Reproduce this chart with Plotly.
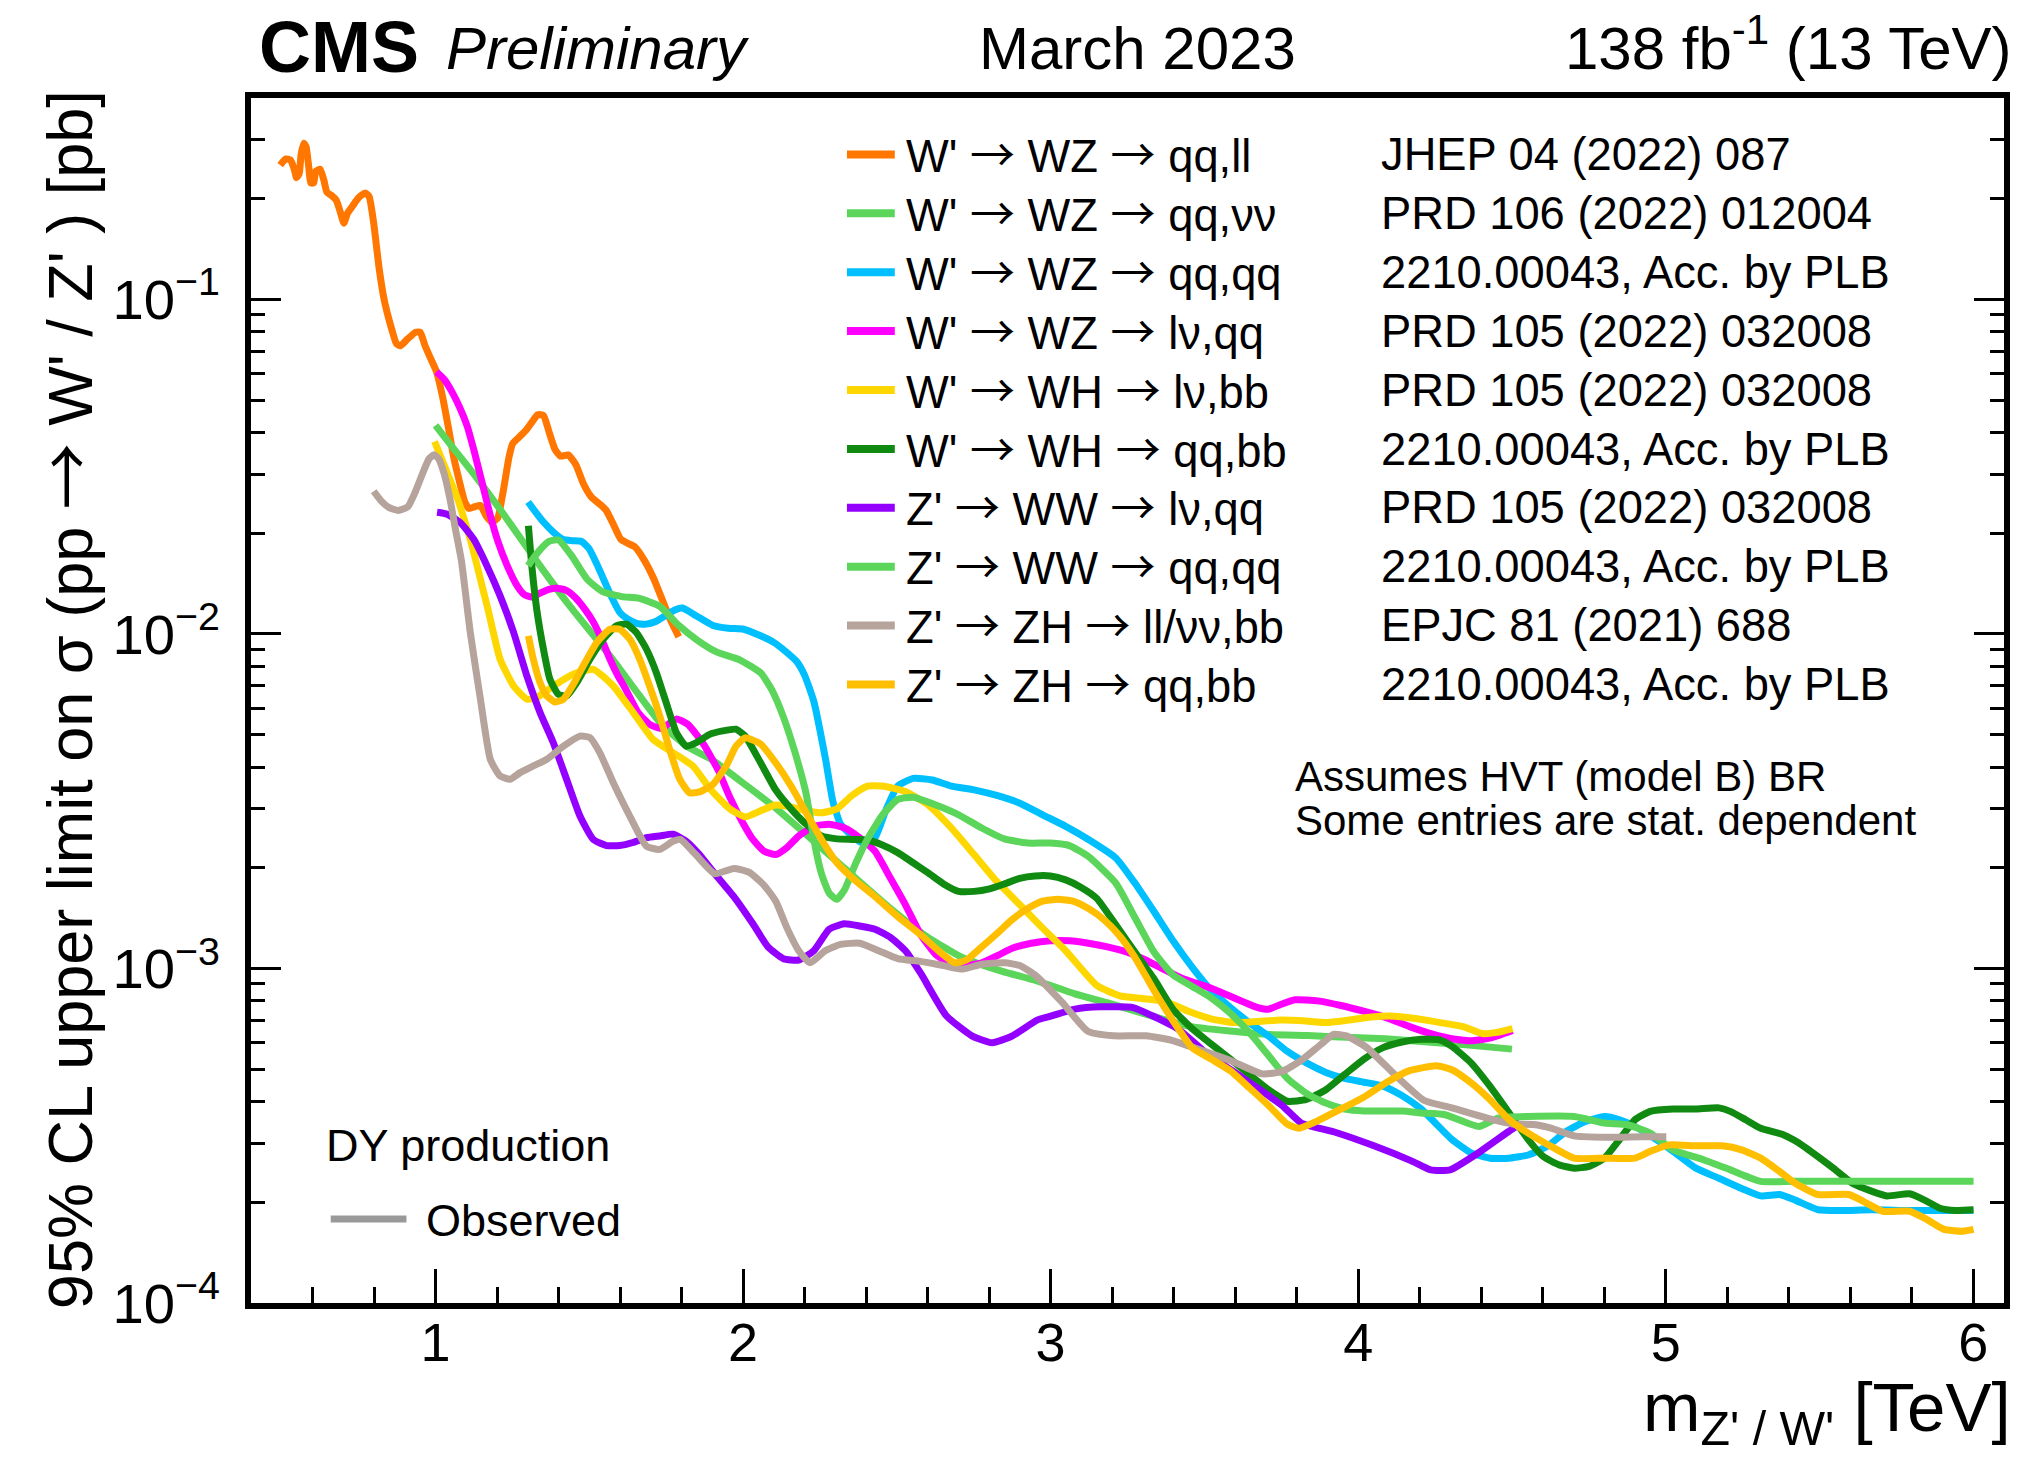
import math
import plotly.graph_objects as go

# ---------------- data ----------------
wz_qqll_m = [0.495,0.513,0.528,0.541,0.548,0.557,0.563,0.572,0.579,0.588,
             0.594,0.604,0.610,0.625,0.637,0.647,0.662,0.677,0.690,0.702,
             0.714,0.731,0.749,0.771,0.784,0.799,0.817,0.833,0.855,0.873,
             0.886,0.910,0.935,0.950,0.966,0.985,1.003,1.022,1.041,1.059,
             1.078,1.096,1.109,1.127,1.146,1.165,1.183,1.202,1.220,1.239,
             1.251,1.270,1.295,1.313,1.332,1.351,1.369,1.388,1.406,1.431,
             1.456,1.481,1.506,1.537,1.555,1.580,1.602,1.623,1.648,1.679,
             1.710,1.741,1.766,1.791]
wz_qqll_lim = [0.252,0.263,0.261,0.2445,0.231,0.238,0.272,0.293,0.2865,0.248,
               0.223,0.223,0.241,0.245,0.227,0.209,0.2045,0.198,0.183,0.169,
               0.181,0.1905,0.201,0.208,0.203,0.169,0.123,0.0998,0.083,0.0737,
               0.0727,0.0763,0.0798,0.0798,0.0727,0.0663,0.0608,0.0516,0.0418,0.0338,
               0.0285,0.0247,0.0237,0.0240,0.0242,0.0225,0.0216,0.0222,0.0267,0.0338,
               0.0371,0.0386,0.0407,0.0429,0.0452,0.0450,0.0402,0.0357,0.0340,0.0343,
               0.0321,0.0281,0.0257,0.0243,0.0234,0.0211,0.0192,0.0187,0.0182,0.0166,
               0.0146,0.0124,0.0109,0.0098]

wz_qqnn_m = [1.0,1.06,1.134,1.208,1.282,1.357,1.431,1.506,1.58,1.66,
             1.74,1.82,1.90,1.98,2.10,2.215,2.347,2.48,2.595,2.711,
             2.843,2.953,3.079,3.205,3.331,3.457,3.584,3.71,3.836,3.962,
             4.089,4.215,4.341,4.5]
wz_qqnn_lim = [0.042,0.0357,0.0293,0.0237,0.019,0.0152,0.0123,0.0101,0.0083,0.0066,
               0.0053,0.0046,0.0042,0.0037,0.00305,0.00247,0.00193,0.00151,0.00125,0.00108,
               0.00098,0.00092,0.00084,0.00078,0.00072,0.00067,0.00065,0.000635,0.00063,0.000623,
               0.000616,0.000604,0.000592,0.000574]

wz_qqqq_m = [1.301,1.326,1.351,1.382,1.413,1.444,1.475,1.499,1.524,1.549,
             1.574,1.599,1.623,1.654,1.685,1.716,1.747,1.778,1.803,1.847,
             1.902,1.952,2.002,2.051,2.101,2.138,2.175,2.200,2.230,2.268,
             2.292,2.317,2.354,2.391,2.429,2.466,2.503,2.553,2.615,2.677,
             2.751,2.825,2.900,2.974,3.049,3.123,3.212,3.274,3.336,3.398,
             3.460,3.522,3.584,3.646,3.708,3.770,3.832,3.895,3.956,4.019,
             4.081,4.142,4.205,4.305,4.367,4.429,4.491,4.553,4.615,4.677,
             4.739,4.801,4.850,4.900,4.962,5.024,5.098,5.173,5.247,5.309,
             5.371,5.421,5.495,5.570,5.669,5.793,5.917,6.000]
wz_qqqq_lim = [0.0248,0.0231,0.0216,0.0202,0.0192,0.0190,0.0189,0.0180,0.0162,0.0144,
               0.0128,0.0116,0.0111,0.01075,0.0107,0.0109,0.01134,0.0118,0.01195,0.01134,
               0.0106,0.0104,0.01033,0.00993,0.00942,0.00887,0.00826,0.00753,0.00628,0.00423,
               0.00316,0.0027,0.00249,0.00237,0.00246,0.0030,0.00351,0.0037,0.00366,0.00351,
               0.00342,0.00329,0.00312,0.00288,0.00266,0.00243,0.00214,0.0018,0.00148,0.00121,
               0.00101,0.000861,0.000765,0.000689,0.000628,0.000565,0.000522,0.000489,0.000469,0.000457,
               0.000445,0.000417,0.00038,0.000308,0.000281,0.000271,0.000271,0.000277,0.000294,0.000326,
               0.000349,0.000361,0.000353,0.000337,0.000311,0.000284,0.000253,0.000236,0.00022,0.000209,
               0.000211,0.000203,0.00019,0.000189,0.00019,0.000189,0.000189,0.000189]

wz_lnqq_m = [1.003,1.028,1.053,1.078,1.103,1.127,1.152,1.177,1.202,1.233,
             1.264,1.289,1.313,1.344,1.369,1.394,1.425,1.456,1.487,1.512,
             1.537,1.568,1.592,1.617,1.660,1.697,1.734,1.784,1.821,1.871,
             1.920,1.957,1.995,2.032,2.069,2.106,2.143,2.181,2.230,2.280,
             2.330,2.379,2.429,2.478,2.528,2.578,2.627,2.677,2.726,2.776,
             2.825,2.875,2.937,2.999,3.061,3.123,3.185,3.247,3.309,3.371,
             3.433,3.522,3.671,3.708,3.746,3.795,3.870,3.944,4.018,4.093,
             4.167,4.242,4.316,4.366,4.428,4.502]
wz_lnqq_lim = [0.0608,0.0577,0.0530,0.0477,0.0418,0.0348,0.0282,0.0228,0.0190,0.0160,
               0.0140,0.0131,0.0129,0.0133,0.0136,0.0137,0.0135,0.0128,0.0118,0.0109,
               0.0098,0.00837,0.00753,0.00687,0.0058,0.00536,0.00522,0.00557,0.00536,0.00469,
               0.0039,0.00325,0.00277,0.00243,0.00224,0.00219,0.0023,0.00249,0.00266,0.0027,
               0.00263,0.00246,0.00224,0.00187,0.00155,0.00126,0.0011,0.00103,0.00102,0.00104,
               0.00109,0.00115,0.00119,0.00121,0.00121,0.00119,0.00116,0.00112,0.00106,0.00099,
               0.00093,0.000873,0.000765,0.000755,0.000779,0.000806,0.0008,0.000775,0.000745,0.000712,
               0.00067,0.000636,0.000614,0.000608,0.000619,0.000653]

wh_lnbb_m = [0.997,1.022,1.047,1.072,1.096,1.121,1.146,1.171,1.210,1.254,
             1.297,1.329,1.383,1.448,1.513,1.578,1.643,1.707,1.772,1.837,
             1.895,1.957,2.007,2.057,2.106,2.156,2.205,2.255,2.305,2.354,
             2.404,2.453,2.528,2.602,2.677,2.751,2.825,2.900,2.974,3.049,
             3.150,3.225,3.299,3.374,3.448,3.522,3.597,3.671,3.746,3.820,
             3.895,3.969,4.043,4.118,4.192,4.267,4.341,4.403,4.452,4.502]
wh_lnbb_lim = [0.0376,0.033,0.0289,0.0253,0.0216,0.018,0.01456,0.0118,0.0084,0.00699,
               0.00638,0.00645,0.00699,0.00758,0.00784,0.00699,0.00582,0.00484,0.00442,0.00403,
               0.00342,0.0030,0.00284,0.00296,0.00308,0.00304,0.00296,0.00292,0.0030,0.00329,
               0.00351,0.00351,0.00338,0.00308,0.00263,0.00219,0.00182,0.00155,0.00132,0.00113,
               0.00089,0.000828,0.000813,0.000796,0.000745,0.000707,0.000689,0.000694,0.000701,0.000698,
               0.000689,0.000701,0.000716,0.00072,0.000707,0.000689,0.00067,0.000639,0.000644,0.000661]

wh_qqbb_m = [1.302,1.313,1.329,1.351,1.372,1.399,1.426,1.459,1.502,1.545,
             1.588,1.621,1.653,1.686,1.718,1.750,1.783,1.815,1.848,1.891,
             1.934,1.977,2.007,2.057,2.106,2.156,2.205,2.255,2.305,2.354,
             2.404,2.453,2.503,2.553,2.602,2.652,2.701,2.751,2.801,2.850,
             2.900,2.949,2.999,3.049,3.098,3.150,3.212,3.274,3.336,3.398,
             3.460,3.522,3.584,3.646,3.708,3.770,3.832,3.895,3.956,4.019,
             4.081,4.143,4.205,4.267,4.305,4.367,4.429,4.491,4.553,4.602,
             4.652,4.702,4.751,4.801,4.850,4.900,4.950,5.024,5.098,5.173,
             5.210,5.260,5.309,5.384,5.433,5.495,5.545,5.607,5.669,5.719,
             5.793,5.842,5.892,5.942,6.001]
wh_qqbb_lim = [0.02105,0.016,0.01186,0.009,0.00732,0.0066,0.00652,0.00715,0.0084,0.00964,
               0.01057,0.01069,0.0101,0.009,0.00766,0.00623,0.00507,0.00462,0.00473,0.00501,
               0.00513,0.00519,0.00495,0.00412,0.00342,0.0030,0.0027,0.00249,0.00244,0.00243,
               0.00242,0.00234,0.00222,0.00207,0.00193,0.00179,0.0017,0.0017,0.00173,0.00179,
               0.00186,0.00189,0.00189,0.00184,0.00175,0.00162,0.00135,0.00112,0.000932,0.000755,
               0.000661,0.000595,0.000536,0.000482,0.000434,0.000401,0.000406,0.000434,0.000482,0.000536,
               0.00058,0.000603,0.000614,0.000611,0.000585,0.000522,0.000444,0.00037,0.000308,0.000274,
               0.000259,0.000253,0.000256,0.000271,0.000308,0.000353,0.000374,0.00038,0.00038,0.000383,
               0.000374,0.000353,0.000333,0.000318,0.000301,0.000274,0.000253,0.000228,0.000216,0.000209,
               0.000212,0.000203,0.000192,0.000189,0.00019]

ww_lnqq_m = [1.005,1.038,1.081,1.124,1.167,1.210,1.254,1.297,1.340,1.383,
             1.426,1.470,1.513,1.556,1.599,1.642,1.686,1.729,1.772,1.815,
             1.858,1.908,1.970,2.032,2.081,2.131,2.181,2.230,2.280,2.329,
             2.379,2.429,2.478,2.528,2.578,2.661,2.744,2.810,2.876,2.956,
             2.995,3.079,3.163,3.268,3.331,3.415,3.500,3.626,3.752,3.815,
             3.920,4.047,4.173,4.236,4.299,4.383,4.488,4.510]
ww_lnqq_lim = [0.0231,0.0228,0.0215,0.0192,0.016,0.013,0.0101,0.00749,0.00582,0.00473,
               0.00368,0.00285,0.00243,0.00233,0.00233,0.00238,0.00246,0.00249,0.00252,0.0024,
               0.00219,0.00192,0.00164,0.00136,0.00116,0.00107,0.00106,0.00113,0.00131,0.00136,
               0.00134,0.00131,0.00124,0.00113,0.000966,0.000722,0.000629,0.0006,0.000629,0.000701,
               0.000718,0.000756,0.000768,0.000764,0.000722,0.000659,0.000565,0.00047,0.00039,0.000345,
               0.000325,0.000296,0.000266,0.00025,0.00025,0.000278,0.000325,0.000335]

ww_qqqq_m = [1.301,1.332,1.369,1.400,1.444,1.493,1.543,1.605,1.660,1.729,
             1.791,1.853,1.915,1.989,2.057,2.094,2.131,2.168,2.205,2.230,
             2.255,2.280,2.305,2.330,2.367,2.404,2.454,2.503,2.553,2.627,
             2.701,2.776,2.850,2.925,2.999,3.061,3.123,3.212,3.274,3.336,
             3.398,3.460,3.522,3.584,3.646,3.708,3.770,3.832,3.895,3.956,
             4.019,4.143,4.205,4.280,4.392,4.454,4.553,4.702,4.801,4.875,
             4.950,5.024,5.123,5.210,5.309,5.421,6.001]
ww_qqqq_lim = [0.016,0.0175,0.0189,0.0191,0.01705,0.01457,0.01338,0.01293,0.0128,0.0121,
               0.0106,0.00955,0.00882,0.00837,0.00765,0.00679,0.00565,0.00445,0.00333,0.00243,
               0.00192,0.00168,0.00161,0.00172,0.00207,0.00243,0.00288,0.0032,0.00325,0.00308,
               0.00288,0.00263,0.00244,0.00237,0.00237,0.00233,0.00216,0.0018,0.00142,0.00112,
               0.000957,0.000884,0.000817,0.000735,0.000644,0.00055,0.000469,0.000423,0.000396,0.00038,
               0.000375,0.000375,0.00037,0.000366,0.000337,0.000357,0.000361,0.000361,0.000345,0.000341,
               0.000322,0.000287,0.000268,0.00025,0.000231,0.000231,0.000231]

zh_llbb_m = [0.799,0.823,0.848,0.879,0.910,0.935,0.960,0.979,0.995,1.010,
             1.028,1.047,1.065,1.084,1.113,1.146,1.178,1.210,1.243,1.275,
             1.318,1.362,1.416,1.470,1.502,1.534,1.578,1.632,1.686,1.729,
             1.772,1.796,1.846,1.908,1.970,2.019,2.069,2.106,2.143,2.181,
             2.218,2.267,2.317,2.379,2.441,2.503,2.577,2.652,2.714,2.776,
             2.850,2.900,2.953,3.037,3.121,3.205,3.310,3.394,3.479,3.584,
             3.689,3.752,3.815,3.878,3.920,3.962,4.026,4.131,4.215,4.305,
             4.429,4.503,4.578,4.627,4.702,4.801,4.925,5.002]
zh_llbb_lim = [0.0267,0.025,0.0239,0.0234,0.024,0.0267,0.0305,0.0334,0.0343,0.0334,
               0.0301,0.0253,0.0205,0.0166,0.0101,0.00638,0.00422,0.00376,0.00368,0.00385,
               0.00403,0.00422,0.00462,0.00495,0.0049,0.00442,0.00359,0.00285,0.00232,0.00227,
               0.0024,0.00243,0.00219,0.00192,0.00199,0.00194,0.00177,0.00159,0.00132,0.00113,
               0.00104,0.00113,0.00118,0.00119,0.00113,0.00107,0.00105,0.00102,0.000996,0.00103,
               0.00104,0.00102,0.00095,0.000793,0.000649,0.000629,0.000629,0.00061,0.000574,0.000531,
               0.000484,0.000492,0.000531,0.000592,0.000635,0.000629,0.000582,0.00047,0.000403,0.000383,
               0.000355,0.000343,0.000341,0.000333,0.000316,0.000313,0.000314,0.000314]

zh_qqbb_m = [1.302,1.318,1.340,1.362,1.389,1.416,1.448,1.480,1.524,1.567,
             1.599,1.632,1.664,1.696,1.729,1.761,1.794,1.826,1.858,1.902,
             1.945,1.977,2.007,2.057,2.106,2.156,2.205,2.255,2.305,2.354,
             2.429,2.503,2.578,2.640,2.689,2.726,2.776,2.825,2.875,2.925,
             2.974,3.024,3.073,3.123,3.173,3.222,3.274,3.336,3.398,3.460,
             3.522,3.584,3.646,3.708,3.770,3.808,3.870,3.944,4.018,4.093,
             4.167,4.255,4.305,4.367,4.429,4.491,4.553,4.627,4.702,4.801,
             4.900,4.950,5.012,5.098,5.185,5.247,5.309,5.371,5.421,5.495,
             5.595,5.644,5.706,5.793,5.843,5.905,5.967,6.001]
zh_qqbb_lim = [0.00987,0.0084,0.00715,0.00653,0.00626,0.00638,0.00707,0.00802,0.00942,0.01033,
               0.01033,0.00964,0.0084,0.00699,0.00569,0.00452,0.00368,0.00335,0.00337,0.00355,
               0.00403,0.00462,0.00489,0.00469,0.00412,0.00351,0.00292,0.00243,0.00207,0.00187,
               0.00164,0.00143,0.00126,0.00112,0.00104,0.00106,0.00116,0.00127,0.0014,0.00151,
               0.00159,0.00161,0.00159,0.00151,0.0014,0.00126,0.00108,0.000861,0.000698,0.00058,
               0.000536,0.000495,0.00044,0.00039,0.000342,0.000333,0.000351,0.00038,0.000412,0.000457,
               0.000495,0.000512,0.000498,0.000455,0.000405,0.000353,0.000322,0.000294,0.000271,0.000271,
               0.000271,0.000284,0.000297,0.000295,0.000295,0.000287,0.000271,0.000247,0.000228,0.000211,
               0.000211,0.000201,0.000188,0.000188,0.000179,0.000166,0.000164,0.000166]

channel_labels = ["W' → WZ → qq,ll", "W' → WZ → qq,νν", "W' → WZ → qq,qq",
                  "W' → WZ → lν,qq", "W' → WH → lν,bb", "W' → WH → qq,bb",
                  "Z' → WW → lν,qq", "Z' → WW → qq,qq", "Z' → ZH → ll/νν,bb",
                  "Z' → ZH → qq,bb"]
references = ["JHEP 04 (2022) 087", "PRD 106 (2022) 012004", "2210.00043, Acc. by PLB",
              "PRD 105 (2022) 032008", "PRD 105 (2022) 032008", "2210.00043, Acc. by PLB",
              "PRD 105 (2022) 032008", "2210.00043, Acc. by PLB", "EPJC 81 (2021) 688",
              "2210.00043, Acc. by PLB"]
colors = ["#ff7700", "#5bd65b", "#00bfff", "#ff00ff", "#ffd700",
          "#118a11", "#9400ff", "#5bd65b", "#b5a39c", "#ffbf00"]

series = [(wz_qqll_m, wz_qqll_lim), (wz_qqnn_m, wz_qqnn_lim), (wz_qqqq_m, wz_qqqq_lim),
          (wz_lnqq_m, wz_lnqq_lim), (wh_lnbb_m, wh_lnbb_lim), (wh_qqbb_m, wh_qqbb_lim),
          (ww_lnqq_m, ww_lnqq_lim), (ww_qqqq_m, ww_qqqq_lim), (zh_llbb_m, zh_llbb_lim),
          (zh_qqbb_m, zh_qqbb_lim)]
for i, (mx, lim) in enumerate(series):
    assert len(mx) == len(lim), (i, len(mx), len(lim))

# ---------------- figure ----------------
W, H = 2018, 1458
L, R, T, B = 251, 8, 98, 155
PW, PH = W - L - R, H - T - B
FONT = "Liberation Sans, Arial, Helvetica, sans-serif"

def px(xp):
    return (xp - L) / PW

def py(yp):
    return (H - B - yp) / PH

def arrows(s, size):
    return s.replace("→", '<span style="font-family:Noto Sans CJK JP;font-size:%dpx">→</span>' % size)

fig = go.Figure()
for (mx, lim), col, lab in zip(series, colors, channel_labels):
    fig.add_trace(go.Scatter(x=mx, y=lim, mode="lines", name=lab,
                             line=dict(color=col, width=7, shape="spline", smoothing=0.5),
                             showlegend=False, hoverinfo="skip"))

annotations = []
shapes = []
# header
annotations.append(dict(text="<b>CMS</b>", x=px(257), y=py(47), xanchor="left", yanchor="middle",
                        font=dict(size=72, family=FONT, color="black")))
annotations.append(dict(text="<i>Preliminary</i>", x=px(445), y=py(49), xanchor="left", yanchor="middle",
                        font=dict(size=60, family=FONT, color="black")))
annotations.append(dict(text="March 2023", x=px(1141), y=py(49), xanchor="center", yanchor="middle",
                        font=dict(size=60, family=FONT, color="black")))
annotations.append(dict(text="138 fb<sup>-1</sup> (13 TeV)", x=px(2020), y=py(44), xanchor="right", yanchor="middle",
                        font=dict(size=60, family=FONT, color="black")))
# axis titles
annotations.append(dict(text=arrows("95% CL upper limit on σ (pp → W' / Z' ) [pb]", 66), x=px(62), y=py(88),
                        xanchor="center", yanchor="top", textangle=-90,
                        font=dict(size=63, family=FONT, color="black")))
annotations.append(dict(text="m<sub>Z' / W'</sub> [TeV]", x=px(2019), y=py(1457),
                        xanchor="right", yanchor="bottom",
                        font=dict(size=69, family=FONT, color="black")))
# legend: sample lines + two text columns (one multi-line annotation per column)
row0, step = 154.4, 58.9
LEG_FS = step / 1.3
for i, col in enumerate(colors):
    yy = row0 + step * i
    shapes.append(dict(type="line", xref="paper", yref="paper", x0=px(849), x1=px(897),
                       y0=py(yy), y1=py(yy), line=dict(color=col, width=8)))
mid_rows = row0 + step * (len(colors) - 1) / 2
annotations.append(dict(text="<br>".join(arrows(lab, 45) for lab in channel_labels),
                        x=px(906), y=py(mid_rows - 2), xanchor="left", yanchor="middle", align="left",
                        font=dict(size=LEG_FS, family=FONT, color="black")))
annotations.append(dict(text="<br>".join(references),
                        x=px(1383), y=py(mid_rows), xanchor="left", yanchor="middle", align="left",
                        font=dict(size=LEG_FS, family=FONT, color="black")))
annotations.append(dict(text="Assumes HVT (model B) BR", x=px(1297), y=py(776), xanchor="left",
                        yanchor="middle", font=dict(size=42, family=FONT, color="black")))
annotations.append(dict(text="Some entries are stat. dependent", x=px(1297), y=py(820), xanchor="left",
                        yanchor="middle", font=dict(size=42, family=FONT, color="black")))
annotations.append(dict(text="DY production", x=px(324), y=py(1145), xanchor="left",
                        yanchor="middle", font=dict(size=45, family=FONT, color="black")))
shapes.append(dict(type="line", xref="paper", yref="paper", x0=px(331), x1=px(407),
                   y0=py(1219), y1=py(1219), line=dict(color="#999999", width=7)))
annotations.append(dict(text="Observed", x=px(425), y=py(1220), xanchor="left",
                        yanchor="middle", font=dict(size=45, family=FONT, color="black")))
for a in annotations:
    a.update(xref="paper", yref="paper", showarrow=False)

fig.update_layout(
    width=W, height=H, margin=dict(l=L, r=R, t=T, b=B, pad=0),
    paper_bgcolor="white", plot_bgcolor="white",
    font=dict(family=FONT, color="black"),
    annotations=annotations, shapes=shapes, showlegend=False,
    xaxis=dict(range=[0.4, 6.1], showline=True, linecolor="black", linewidth=6, mirror=True,
               ticks="inside", ticklen=34, tickwidth=3, tickcolor="black", tick0=0, dtick=1,
               ticklabelstandoff=-13,
               minor=dict(ticks="inside", ticklen=16, tickwidth=3, tickcolor="black", dtick=0.2),
               tickfont=dict(size=54, family=FONT, color="black"), showgrid=False, zeroline=False),
    yaxis=dict(type="log", range=[-4, math.log10(0.4)], showline=True, linecolor="black", linewidth=6,
               mirror="allticks", ticks="inside", ticklen=30, tickwidth=3, tickcolor="black", dtick=1,
               exponentformat="power", showexponent="all", ticklabelstandoff=16,
               minor=dict(ticks="inside", ticklen=14, tickwidth=3, tickcolor="black", dtick="D1"),
               tickfont=dict(size=45, family=FONT, color="black"), showgrid=False, zeroline=False),
)

fig.write_html("out.html")
